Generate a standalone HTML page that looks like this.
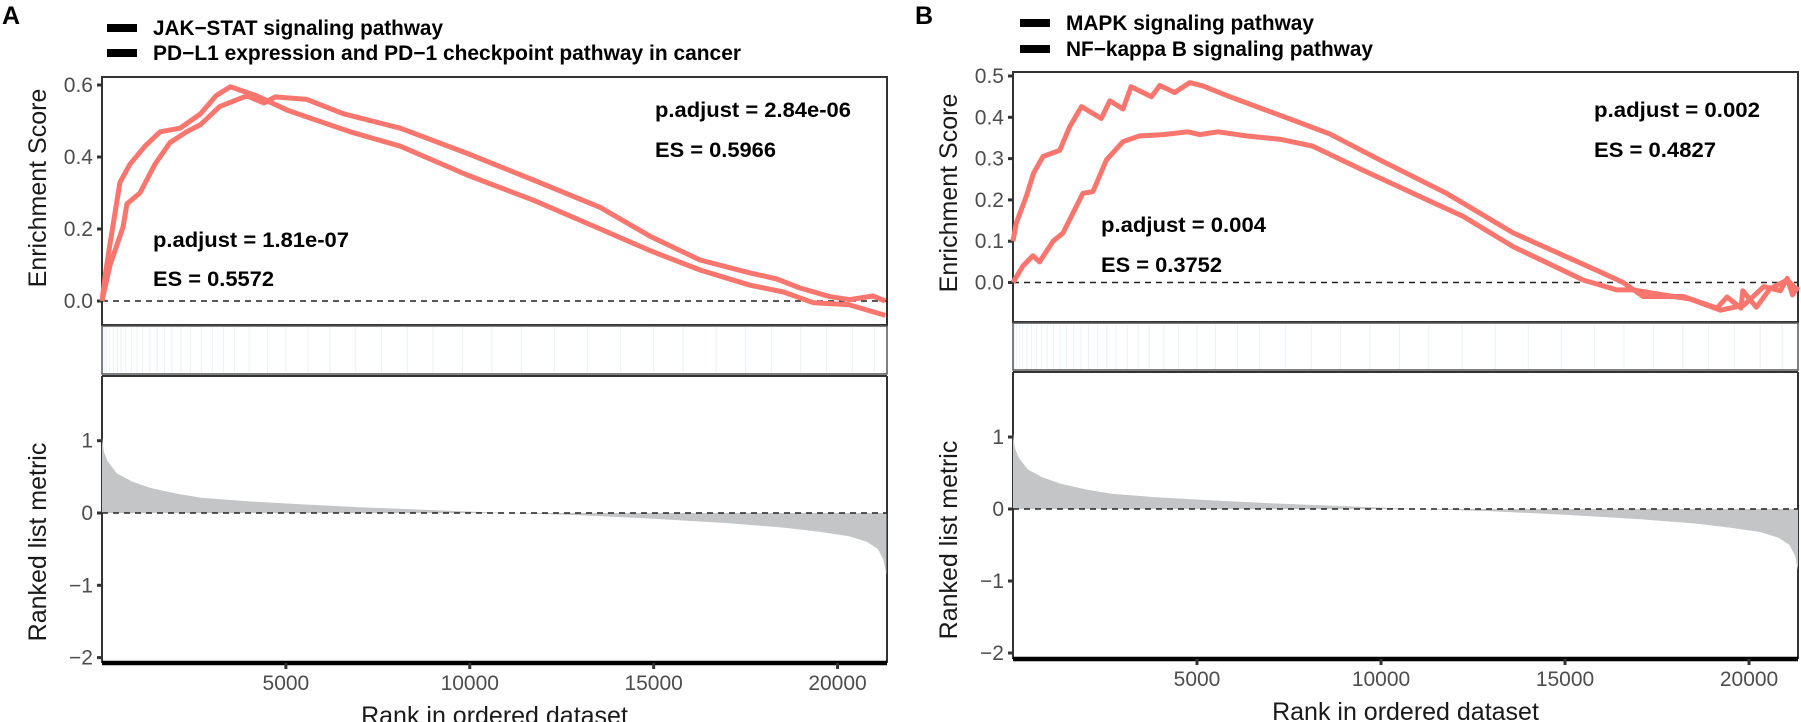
<!DOCTYPE html>
<html><head><meta charset="utf-8">
<style>
html,body{margin:0;padding:0;background:#fff;}
svg{display:block;}
text{font-family:"Liberation Sans",Arial,sans-serif;}
.tick{fill:#4d4d4d;font-size:21px;}
.ttl{fill:#1a1a1a;font-size:25px;}
.ann{font-family:"Liberation Sans Narrow","Liberation Sans",sans-serif;font-weight:bold;font-size:21px;fill:#000;}
</style></head>
<body>
<svg id="chart" width="1801" height="722" viewBox="0 0 1801 722" xmlns="http://www.w3.org/2000/svg"></svg>
<script>
// ---------- Panel A data ----------
const aRanksS = [0,100,220,490,760,1170,1580,2120,2680,3100,3490,4200,5040,6750,8110,9930,11730,13550,14900,16260,17620,18530,19350,20300,21300];
const aEsS    = [0,0.08,0.16,0.33,0.38,0.43,0.47,0.48,0.52,0.57,0.595,0.57,0.53,0.47,0.43,0.35,0.28,0.20,0.14,0.086,0.044,0.025,-0.005,-0.01,-0.04];
const aRanksP = [0,220,570,680,1030,1440,1850,2300,2680,3200,3940,4400,4710,5570,6570,8110,9930,11730,13550,14900,16260,17620,18350,18980,19800,20330,20960,21300];
const aEsP    = [0,0.10,0.205,0.27,0.30,0.38,0.44,0.47,0.49,0.54,0.57,0.55,0.567,0.56,0.52,0.48,0.41,0.336,0.26,0.18,0.114,0.078,0.061,0.036,0.012,0.004,0.014,0.0];
// ---------- Panel B data ----------
const bRanksU = [0,90,360,560,815,1270,1540,1860,2400,2630,2990,3210,3760,3990,4390,4800,5160,5890,6790,7700,8600,9960,11780,13590,15950,16580,17120,18210,19130,19400,19780,19830,20200,20570,21040,21330];
const bEsU    = [0.1,0.144,0.208,0.265,0.305,0.32,0.377,0.426,0.397,0.44,0.42,0.474,0.45,0.477,0.46,0.484,0.476,0.45,0.42,0.39,0.36,0.297,0.216,0.12,0.026,0,-0.034,-0.034,-0.062,-0.035,-0.062,-0.02,-0.06,-0.015,0.006,-0.02];
const bRanksL = [0,270,540,720,1090,1360,1900,2170,2540,2990,3440,4080,4750,5070,5570,6340,7250,8150,9510,10870,12230,13590,15490,16400,16850,17670,18400,19220,19860,20400,20850,21040,21180,21330];
const bEsL    = [0,0.04,0.065,0.05,0.10,0.12,0.216,0.22,0.297,0.341,0.355,0.358,0.365,0.358,0.365,0.355,0.347,0.33,0.272,0.216,0.16,0.087,0.006,-0.018,-0.018,-0.03,-0.04,-0.067,-0.055,-0.01,-0.02,0.01,-0.03,-0.01];
// ---------- Ranked list metric (shared shape) ----------
const metricRanks  = [0,50,150,400,800,1300,2000,2700,4000,5400,7000,9000,11000,13000,15000,17000,18500,19500,20300,20800,21100,21250,21330];
const metricValues = [1.05,0.85,0.72,0.55,0.44,0.35,0.27,0.21,0.16,0.12,0.08,0.04,0.0,-0.03,-0.08,-0.14,-0.2,-0.26,-0.32,-0.4,-0.5,-0.65,-0.85];
// ---------- gene hits (rug) ----------
const hitRanksA = [60,120,200,310,420,520,650,800,950,1100,1300,1500,1700,1900,2150,2400,2700,3000,3300,3600,4000,4500,5000,5600,6200,6900,7600,8300,9000,9800,10600,11400,12300,13200,14100,15000,15800,16700,17500,18200,19000,19700,20400,21000];
const hitRanksB = [40,100,180,260,380,500,640,780,930,1100,1280,1450,1650,1850,2050,2300,2550,2800,3100,3400,3700,4100,4500,5000,5500,6100,6700,7400,8100,8900,9700,10500,11300,12200,13100,14000,14900,15800,16600,17400,18200,18900,19600,20300,20900];
// ---------- ticks ----------
const xTicks = [5000,10000,15000,20000];
const aEsTicks = [0.0,0.2,0.4,0.6];
const aEsTickLabels = ["0.0","0.2","0.4","0.6"];
const bEsTicks = [0.0,0.1,0.2,0.3,0.4,0.5];
const bEsTickLabels = ["0.0","0.1","0.2","0.3","0.4","0.5"];
const metricTicks = [1,0,-1,-2];
const metricTickLabels = ["1","0","\u22121","\u22122"];

const NS="http://www.w3.org/2000/svg";
const svg=document.getElementById('chart');
function mk(tag,attrs,parent){const e=document.createElementNS(NS,tag);for(const k in attrs)e.setAttribute(k,attrs[k]);(parent||svg).appendChild(e);return e;}

function panel(c){
  const g=mk('g',{});
  
  
  const xs=r=>c.x0+(r/c.xmax)*(c.x1-c.x0);
  const ys=v=>c.esZero-v*c.esScale;
  const ms=v=>c.mZero-v*c.mScale;
  const L=mk('text',{x:c.letterX,y:c.letterY,'font-size':'25','font-weight':'bold',fill:'#000'},g);
  L.textContent=c.letter;
  
  
  c.legend.forEach((t,i)=>{
    const r=mk('rect',{x:c.legX,y:c.legY[i]-4,width:30,height:8,fill:'#000'},g);
    
    
    const tx=mk('text',{x:c.legX+46,y:c.legY[i]+7,class:'ann',textLength:c.legW[i],lengthAdjust:'spacingAndGlyphs'},g);
    tx.textContent=t;
    
    
  });
  const box=mk('rect',{x:c.x0,y:c.esTop,width:c.x1-c.x0,height:c.esBot-c.esTop,fill:'#fff',stroke:'#333','stroke-width':2},g);
  
  
  const dz=mk('line',{x1:c.x0,x2:c.x1,y1:ys(0),y2:ys(0),stroke:'#222','stroke-width':1.6,'stroke-dasharray':'6,5'},g);
  
  
  c.esTicks.forEach((v,i)=>{
    mk('line',{x1:c.x0-5,x2:c.x0,y1:ys(v),y2:ys(v),stroke:'#333','stroke-width':3},g);
    const t=mk('text',{x:c.x0-9,y:ys(v)+7,class:'tick','text-anchor':'end'},g);
    t.textContent=c.esTickLabels[i];
    
    
  });
  const yt=mk('text',{x:0,y:0,class:'ttl','text-anchor':'middle',transform:`translate(${c.titleX},${c.esTitleY}) rotate(-90)`},g);
  yt.textContent='Enrichment Score';
  
  
  c.curves.forEach((cv,i)=>{
    const pts=cv.r.map((r,j)=>xs(r).toFixed(1)+','+ys(cv.v[j]).toFixed(1)).join(' ');
    const p=mk('polyline',{points:pts,fill:'none',stroke:'#f8766d','stroke-width':5,'stroke-linejoin':'round'},g);
    
    
  });
  c.ann.forEach((a,i)=>{
    const t=mk('text',{x:a.x,y:a.y+7,class:'ann',textLength:a.w,lengthAdjust:'spacingAndGlyphs'},g);
    t.textContent=a.t;
    
    
  });
  const rb=mk('rect',{x:c.x0,y:c.esBot+1,width:c.x1-c.x0,height:c.rugBot-c.esBot-1,fill:'#fff',stroke:'#555','stroke-width':1.5},g);
  
  
  c.hits.forEach(r=>{
    const l=mk('line',{x1:xs(r),x2:xs(r),y1:c.esBot+2,y2:c.rugBot-1,stroke:'#dde9f2','stroke-width':1,opacity:0.6},g);
    
    
  });
  const lt=c.rugBot+2;
  mk('line',{x1:c.x0,x2:c.x1,y1:lt,y2:lt,stroke:'#333','stroke-width':2},g);
  mk('line',{x1:c.x0,x2:c.x0,y1:lt,y2:c.axisY,stroke:'#333','stroke-width':2},g);
  mk('line',{x1:c.x1,x2:c.x1,y1:lt,y2:c.axisY,stroke:'#333','stroke-width':2},g);
  let d='M'+xs(metricRanks[0])+','+ms(0);
  metricRanks.forEach((r,j)=>{d+=' L'+xs(r).toFixed(1)+','+ms(metricValues[j]).toFixed(1);});
  d+=' L'+xs(metricRanks[metricRanks.length-1]).toFixed(1)+','+ms(0)+' Z';
  const ar=mk('path',{d:d,fill:'#c4c5c7',stroke:'none'},g);
  
  
  const mz=mk('line',{x1:c.x0,x2:c.x1,y1:ms(0),y2:ms(0),stroke:'#222','stroke-width':1.6,'stroke-dasharray':'6,5'},g);
  
  
  metricTicks.forEach((v,i)=>{
    mk('line',{x1:c.x0-5,x2:c.x0,y1:ms(v),y2:ms(v),stroke:'#333','stroke-width':3},g);
    const t=mk('text',{x:c.x0-9,y:ms(v)+7,class:'tick','text-anchor':'end'},g);
    t.textContent=metricTickLabels[i];
    
    
  });
  const mt=mk('text',{x:0,y:0,class:'ttl','text-anchor':'middle',transform:`translate(${c.titleX},${c.mTitleY}) rotate(-90)`},g);
  mt.textContent='Ranked list metric';
  
  
  const ax=mk('line',{x1:c.x0,x2:c.x1,y1:c.axisY,y2:c.axisY,stroke:'#000','stroke-width':4.5},g);
  
  
  xTicks.forEach(v=>{
    mk('line',{x1:xs(v),x2:xs(v),y1:c.axisY,y2:c.axisY+6,stroke:'#333','stroke-width':3},g);
    const t=mk('text',{x:xs(v),y:c.axisY+27,class:'tick','text-anchor':'middle'},g);
    t.textContent=v;
    
    
  });
  const xt=mk('text',{x:(c.x0+c.x1)/2,y:c.axisY+61,class:'ttl','text-anchor':'middle'},g);
  xt.textContent='Rank in ordered dataset';
  
  
}

panel({id:'a',letter:'A',letterX:2,letterY:24,x0:102,x1:887,xmax:21345,
  esTop:77,esBot:325,esZero:301,esScale:360,rugBot:374,mZero:513,mScale:72.3,axisY:663,
  titleX:46,esTitleY:188,mTitleY:542,
  esTicks:aEsTicks,esTickLabels:aEsTickLabels,
  legend:['JAK\u2212STAT signaling pathway','PD\u2212L1 expression and PD\u22121 checkpoint pathway in cancer'],
  legX:107,legY:[28,53],legW:[290,588],
  curves:[{r:aRanksS,v:aEsS},{r:aRanksP,v:aEsP}],
  hits:hitRanksA,
  ann:[{t:'p.adjust = 2.84e-06',x:655,y:110,w:196},{t:'ES = 0.5966',x:655,y:150,w:121},
       {t:'p.adjust = 1.81e-07',x:153,y:240,w:196},{t:'ES = 0.5572',x:153,y:279,w:121}]
});
panel({id:'b',letter:'B',letterX:915,letterY:24,x0:1013,x1:1798,xmax:21330,
  esTop:72,esBot:322,esZero:282.5,esScale:413,rugBot:370,mZero:509,mScale:72,axisY:659,
  titleX:957,esTitleY:193,mTitleY:540,
  esTicks:bEsTicks,esTickLabels:bEsTickLabels,
  legend:['MAPK signaling pathway','NF\u2212kappa B signaling pathway'],
  legX:1020,legY:[23,49],legW:[248,307],
  curves:[{r:bRanksU,v:bEsU},{r:bRanksL,v:bEsL}],
  hits:hitRanksB,
  ann:[{t:'p.adjust = 0.002',x:1594,y:110,w:166},{t:'ES = 0.4827',x:1594,y:150,w:122},
       {t:'p.adjust = 0.004',x:1101,y:225,w:165},{t:'ES = 0.3752',x:1101,y:265,w:121}]
});
</script>
</body></html>
